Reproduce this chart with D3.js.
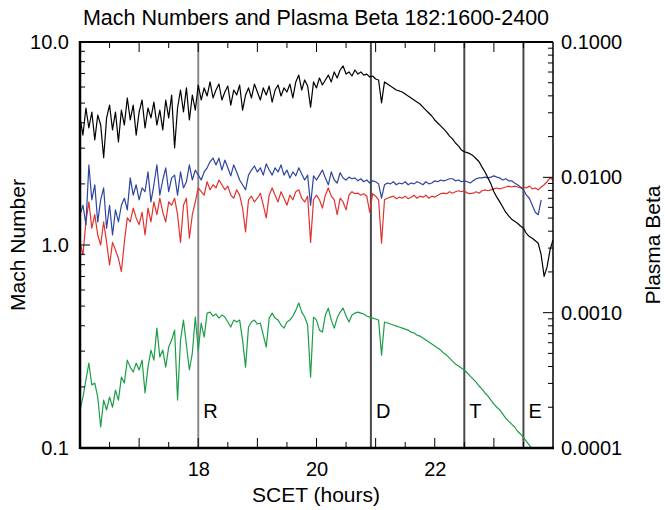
<!DOCTYPE html>
<html><head><meta charset="utf-8">
<script src="https://cdn.jsdelivr.net/npm/d3@7/dist/d3.min.js"></script>
<style>body{margin:0;background:#fff}svg{display:block}text{font-family:"Liberation Sans",Arial,sans-serif;fill:#000}</style>
</head><body><svg id="c" width="665" height="510"></svg>
<script>
// time axis: samples every 0.05 h starting at 16.00 h
const T0 = 16.0, DT = 0.05;
const xTicks = [18, 20, 22];
const leftTickLabels = [[10, "10.0"], [1, "1.0"], [0.1, "0.1"]];
const rightTickLabels = [[0.1, "0.1000"], [0.01, "0.0100"], [0.001, "0.0010"], [0.0001, "0.0001"]];
const events = [{t: 18.0, label: "R"}, {t: 20.92, label: "D"}, {t: 22.5, label: "T"}, {t: 23.5, label: "E"}];

const machBlack = [4.23,3.48,4.73,3.77,4.52,3.29,4.37,3.90,2.69,4.23,4.89,3.69,4.52,3.22,4.62,3.90,5.30,4.13,4.89,3.48,
4.52,5.18,3.77,4.73,4.23,5.06,3.90,4.62,3.69,5.18,4.23,5.48,3.01,4.73,5.80,4.52,5.94,4.13,5.48,4.62,
6.14,5.18,5.94,5.42,6.36,5.30,5.80,6.21,5.18,5.67,6.07,4.89,5.80,5.48,6.14,4.62,5.48,5.94,5.30,6.21,
5.67,5.18,5.94,5.48,6.07,5.06,5.80,6.14,5.42,5.94,5.67,6.21,5.30,6.36,6.87,5.80,6.50,6.07,4.78,6.36,
5.94,6.65,6.14,6.50,6.87,6.36,7.12,6.65,7.28,7.62,6.95,7.12,6.80,7.28,6.95,7.12,6.87,6.95,6.72,6.80,
6.57,6.50,5.01,6.36,6.21,6.07,5.94,5.80,5.74,5.67,5.55,5.42,5.30,5.18,5.06,4.95,4.78,4.62,4.47,4.32,
4.13,3.99,3.86,3.73,3.60,3.44,3.33,3.18,3.08,2.94,2.88,2.85,2.81,2.75,2.66,2.57,2.42,2.29,2.14,2.00,
1.83,1.72,1.63,1.54,1.45,1.39,1.34,1.31,1.28,1.24,1.21,1.14,1.10,1.08,1.05,1.02,0.893,0.70,0.78,0.945,1.06];

const machBlue = [1.41,1.57,1.26,2.48,1.67,1.98,1.30,1.67,1.91,1.21,1.57,1.12,1.49,1.30,1.57,1.70,1.49,2.14,1.76,1.98,
1.67,1.91,1.83,2.29,1.63,1.98,2.48,1.76,2.09,2.40,1.83,2.14,2.21,1.76,2.29,1.91,2.05,2.48,2.09,2.34,
2.21,2.09,2.29,2.40,2.57,2.68,2.48,2.68,2.34,2.62,2.40,2.19,2.48,2.29,2.09,1.98,1.87,2.21,2.34,2.45,
2.29,2.40,2.21,2.51,2.34,2.21,2.40,2.29,2.48,2.21,2.34,2.14,2.29,2.19,2.40,2.24,2.09,2.21,1.57,2.19,
2.09,2.21,2.34,2.14,1.98,2.29,2.09,2.02,2.27,2.14,2.09,2.16,2.12,2.14,2.07,2.12,2.05,2.09,2.02,2.07,
2.05,2.00,1.70,1.98,2.02,2.00,2.05,1.98,2.02,2.00,2.05,1.98,2.02,2.00,2.05,2.02,1.98,2.05,2.00,2.02,
2.07,2.05,2.09,2.07,2.09,2.12,2.12,2.07,2.09,2.05,2.07,2.05,2.02,2.07,2.12,2.14,2.14,2.16,2.14,2.16,
2.19,2.16,2.14,2.09,2.12,2.07,2.07,2.02,1.98,1.93,1.87,1.76,1.70,1.57,1.45,1.41,1.67];

const machRed = [1.03,0.893,1.30,1.63,1.21,1.41,1.12,1.00,1.30,1.03,0.797,1.03,0.945,0.86,0.74,1.03,1.36,1.30,1.52,1.36,
1.26,1.45,1.12,1.52,1.30,1.63,1.41,1.70,1.45,1.30,1.63,1.57,1.70,1.41,1.03,1.57,1.70,1.08,1.41,1.63,
1.91,1.83,1.76,2.05,1.87,1.98,1.91,2.09,1.98,1.87,1.95,1.76,1.70,1.87,1.76,1.52,1.16,1.67,1.74,1.63,
1.70,1.80,1.57,1.36,1.76,1.91,1.76,1.63,1.83,1.70,1.57,1.76,1.67,1.83,1.87,1.70,1.63,1.74,1.03,1.67,
1.76,1.67,1.52,1.76,1.91,1.74,1.67,1.41,1.70,1.63,1.49,1.76,1.83,1.79,1.80,1.76,1.79,1.74,1.45,1.79,
1.74,1.67,1.02,1.67,1.70,1.72,1.74,1.69,1.72,1.70,1.74,1.69,1.72,1.76,1.70,1.74,1.72,1.76,1.70,1.74,
1.72,1.76,1.79,1.80,1.79,1.83,1.80,1.83,1.85,1.83,1.85,1.80,1.79,1.80,1.83,1.80,1.85,1.87,1.85,1.87,
1.89,1.91,1.89,1.91,1.93,1.95,1.93,1.95,1.93,1.91,1.93,1.91,1.95,1.89,1.91,1.87,1.93,1.98,2.05,2.14,2.09];

const plasmaBeta = [0.000191,0.000238,0.000318,0.000424,0.000292,0.000302,0.000238,0.000143,0.000226,0.000191,
0.000238,0.000200,0.000268,0.000226,0.000334,0.000302,0.000446,0.000396,0.000364,0.000424,
0.000377,0.000446,0.000255,0.000396,0.000529,0.000446,0.000769,0.000470,0.000529,0.000396,
0.000557,0.000627,0.000743,0.000226,0.000627,0.000881,0.000577,0.000377,0.000503,0.000928,
0.000529,0.000838,0.000660,0.000993,0.00101,0.000944,0.000977,0.000912,0.000960,0.000928,
0.000853,0.000783,0.000881,0.000853,0.000881,0.000627,0.000396,0.000783,0.000853,0.000881,
0.000824,0.000838,0.000683,0.000557,0.000912,0.000993,0.000912,0.000881,0.000810,0.000769,
0.000853,0.000881,0.000944,0.00104,0.00118,0.00101,0.000928,0.000810,0.000334,0.000928,
0.000881,0.000743,0.000719,0.000960,0.00108,0.000881,0.000769,0.000912,0.00101,0.00108,
0.000944,0.000853,0.000960,0.000993,0.00101,0.000993,0.000977,0.000944,0.000928,0.000912,
0.000897,0.000881,0.000486,0.000853,0.000838,0.000824,0.000810,0.000796,0.000783,0.000769,
0.000756,0.000743,0.000719,0.000707,0.000683,0.000671,0.000649,0.000627,0.000606,0.000586,
0.000567,0.000548,0.000529,0.000503,0.000486,0.000462,0.000439,0.000417,0.000403,0.000390,
0.000377,0.000358,0.000340,0.000323,0.000307,0.000287,0.000272,0.000255,0.000242,0.000226,
0.000211,0.000200,0.000191,0.000178,0.000166,0.000158,0.000150,0.000143,0.000133,0.000127,
0.000120,0.000112,0.000105,0.0000982,0.0000917];

const W = 665, H = 510;
const m = {l: 80, r: 553, t: 42, b: 448};
const svg = d3.select("#c");
const x = d3.scaleLinear().domain([16, 24]).range([m.l, m.r]);
const yL = d3.scaleLog().domain([0.1, 10]).range([m.b, m.t]);
const yR = d3.scaleLog().domain([0.0001, 0.1]).range([m.b, m.t]);
const tAt = i => T0 + i * DT;

svg.append("defs").append("clipPath").attr("id", "clip")
  .append("rect").attr("x", m.l).attr("y", m.t).attr("width", m.r - m.l).attr("height", m.b - m.t);

// title
svg.append("text").attr("x", 316).attr("y", 25).attr("text-anchor", "middle")
  .style("font-size", "21.5px").text("Mach Numbers and Plasma Beta 182:1600-2400");

// event lines
const ev = svg.append("g");
events.forEach(e => {
  ev.append("line").attr("x1", x(e.t)).attr("x2", x(e.t)).attr("y1", m.t).attr("y2", m.b)
    .attr("stroke", e.label === "R" ? "#8a8a8a" : "#4a4a4a").attr("stroke-width", 2);
  ev.append("text").attr("x", x(e.t) + 5).attr("y", 418).style("font-size", "20px").text(e.label);
});

// series
const g = svg.append("g").attr("clip-path", "url(#clip)");
function drawLine(data, yScale, color) {
  const line = d3.line().x((d, i) => x(tAt(i))).y(d => yScale(d));
  g.append("path").datum(data).attr("d", line).attr("fill", "none")
    .attr("stroke", color).attr("stroke-width", 1.2).attr("stroke-linejoin", "round");
}
drawLine(plasmaBeta, yR, "#1a9e47");
drawLine(machRed, yL, "#e2322e");
drawLine(machBlue, yL, "#2e45a0");
drawLine(machBlack, yL, "#000000");

// x axes (ticks every half hour, inside)
const xt = d3.range(16.5, 24, 0.5);
const axB = d3.axisBottom(x).tickValues(xTicks).tickSize(0).tickPadding(14).tickFormat(d3.format("d"));
const gb = svg.append("g").attr("transform", `translate(0,${m.b})`).call(axB);
gb.select(".domain").remove();
gb.selectAll("text").style("font-size", "20px").attr("font-family", null);
const tk = svg.append("g").attr("stroke", "#000").attr("stroke-width", 1);
xt.forEach(t => {
  const len = Number.isInteger(t) ? 10 : 6;
  tk.append("line").attr("x1", x(t)).attr("x2", x(t)).attr("y1", m.b).attr("y2", m.b - len);
  tk.append("line").attr("x1", x(t)).attr("x2", x(t)).attr("y1", m.t).attr("y2", m.t + len);
});
// left log ticks
[0.1, 1].forEach(dec => {
  for (let k = 1; k <= 9; k++) {
    const v = dec * k;
    const len = k === 1 ? 10 : 5;
    tk.append("line").attr("x1", m.l).attr("x2", m.l + len).attr("y1", yL(v)).attr("y2", yL(v));
  }
});
// right log ticks
[0.0001, 0.001, 0.01].forEach(dec => {
  for (let k = 1; k <= 9; k++) {
    const v = dec * k;
    const len = k === 1 ? 10 : 5;
    tk.append("line").attr("x1", m.r).attr("x2", m.r - len).attr("y1", yR(v)).attr("y2", yR(v));
  }
});

// frame
svg.append("line").attr("x1", m.l).attr("x2", m.r).attr("y1", m.t).attr("y2", m.t).attr("stroke", "#000").attr("stroke-width", 2);
svg.append("line").attr("x1", m.r).attr("x2", m.r).attr("y1", m.t).attr("y2", m.b).attr("stroke", "#000").attr("stroke-width", 1.5);
svg.append("line").attr("x1", m.l).attr("x2", m.r + 1).attr("y1", m.b).attr("y2", m.b).attr("stroke", "#000").attr("stroke-width", 2.5);
svg.append("line").attr("x1", m.l).attr("x2", m.l).attr("y1", m.t - 1).attr("y2", m.b + 1).attr("stroke", "#000").attr("stroke-width", 2.5);

// tick labels
leftTickLabels.forEach(([v, s]) => svg.append("text").attr("x", 69).attr("y", yL(v) + 7)
  .attr("text-anchor", "end").style("font-size", "20px").text(s));
rightTickLabels.forEach(([v, s]) => svg.append("text").attr("x", 561).attr("y", yR(v) + 7)
  .style("font-size", "20px").text(s));

// axis titles
svg.append("text").attr("x", 316).attr("y", 502).attr("text-anchor", "middle").style("font-size", "21px").text("SCET (hours)");
svg.append("text").attr("transform", "translate(25,245) rotate(-90)").attr("text-anchor", "middle").style("font-size", "21px").text("Mach Number");
svg.append("text").attr("transform", "translate(660,245) rotate(-90)").attr("text-anchor", "middle").style("font-size", "21px").text("Plasma Beta");
</script></body></html>
